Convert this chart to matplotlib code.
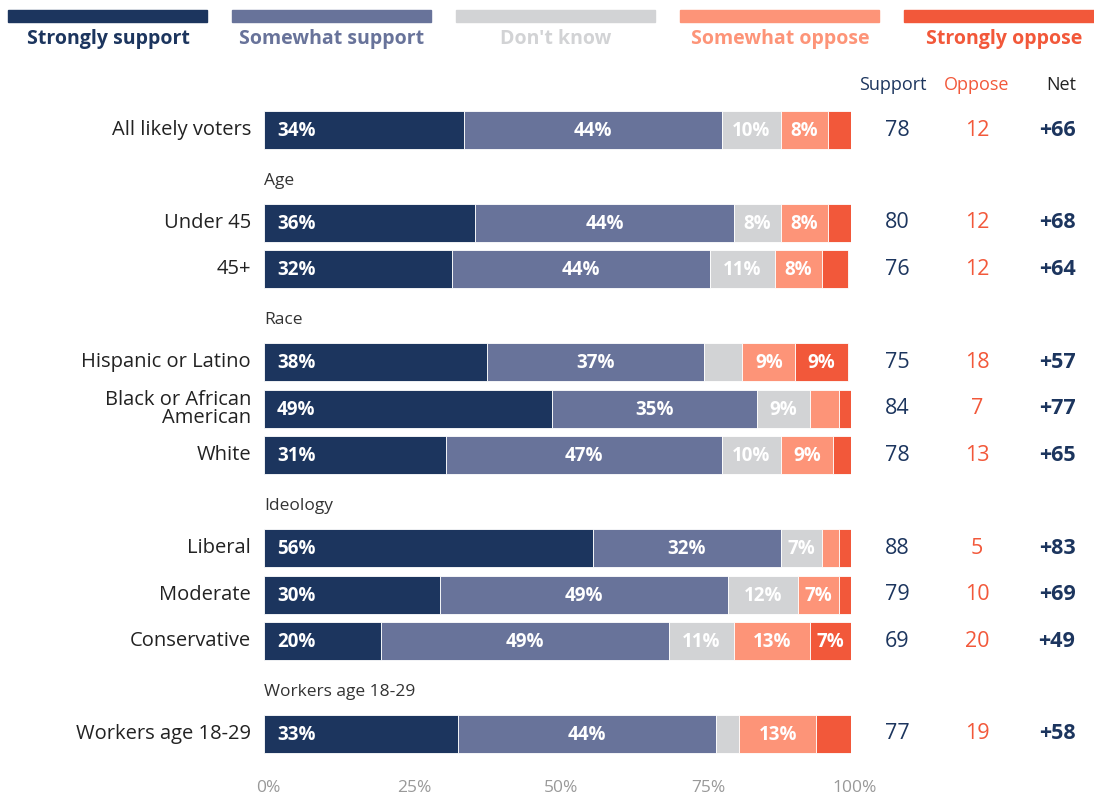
import matplotlib
matplotlib.use('Agg')
import matplotlib.pyplot as plt
import matplotlib.transforms as mtransforms
import numpy as np

plt.rcParams['font.family'] = ['Open Sans', 'DejaVu Sans']

# Survey rows (heading rows carry no bar)
rows = ['All likely voters', 'Age', 'Under 45', '45+', 'Race',
        'Hispanic or Latino', 'Black or African\nAmerican', 'White',
        'Ideology', 'Liberal', 'Moderate', 'Conservative',
        'Workers age 18-29', 'Workers age 18-29']
is_heading = [False, True, False, False, True, False, False, False,
              True, False, False, False, True, False]

strongly_support = [34, None, 36, 32, None, 38, 49, 31, None, 56, 30, 20, None, 33]
somewhat_support = [44, None, 44, 44, None, 37, 35, 47, None, 32, 49, 49, None, 44]
dont_know = [10, None, 8, 11, None, 6.5, 9, 10, None, 7, 12, 11, None, 4]
somewhat_oppose = [8, None, 8, 8, None, 9, 5, 9, None, 3, 7, 13, None, 13]
strongly_oppose = [4, None, 4, 4.5, None, 9, 2, 3.5, None, 2, 2.5, 7, None, 6]

support = [78, None, 80, 76, None, 75, 84, 78, None, 88, 79, 69, None, 77]
oppose = [12, None, 12, 12, None, 18, 7, 13, None, 5, 10, 20, None, 19]
net = ['+66', None, '+68', '+64', None, '+57', '+77', '+65', None, '+83', '+69', '+49', None, '+58']

series_names = ['Strongly support', 'Somewhat support', "Don't know",
                'Somewhat oppose', 'Strongly oppose']
colors = ['#1c355e', '#68739a', '#d2d3d5', '#fd9478', '#f2583a']
navy = colors[0]
orange = colors[4]

W, H = 1094, 795
fig = plt.figure(figsize=(W / 100, H / 100), dpi=100)

# bar area in pixel terms: 0% at x=264, 100% at x=851; row k centred at 130 + 46.46*k
x0, x1 = 264, 851
top, bottom = 100, 770
pitch = 46.46
ax = fig.add_axes([x0 / W, 1 - bottom / H, (x1 - x0) / W, (bottom - top) / H])
ax.set_xlim(0, 100)
ax.set_ylim((bottom - 130) / pitch, (top - 130) / pitch)

series = [strongly_support, somewhat_support, dont_know, somewhat_oppose, strongly_oppose]
bar_h = 38 / pitch

for i, name in enumerate(rows):
    if is_heading[i]:
        ax.text(0, i + 0.1, name, ha='left', va='center', fontsize=12.5, color='#333333')
        continue
    left = 0
    for j, vals in enumerate(series):
        v = vals[i]
        ax.barh(i, v, left=left, height=bar_h, color=colors[j],
                edgecolor='white', linewidth=0.6)
        if v >= 7:
            if j == 0:
                ax.text(left + 2.2, i + 0.02, f'{v:.0f}%', ha='left', va='center',
                        fontsize=13.5, fontweight='bold', color='white')
            else:
                ax.text(left + v / 2, i + 0.02, f'{v:.0f}%', ha='center', va='center',
                        fontsize=13.5, fontweight='bold', color='white')
        left += v
    ax.text(-2.2, i, name, ha='right', va='center', fontsize=14.5,
            color='#222222', linespacing=0.85)

# summary columns to the right of the bars
trans = mtransforms.blended_transform_factory(fig.transFigure, ax.transData)
col_x = [897 / W, 977 / W, 1057 / W]
header_y = (85 - 130) / pitch
ax.text(893 / W, header_y, 'Support', transform=trans, ha='center', va='center',
        fontsize=13, color=navy)
ax.text(col_x[1], header_y, 'Oppose', transform=trans, ha='center', va='center',
        fontsize=13, color=orange)
ax.text(1061 / W, header_y, 'Net', transform=trans, ha='center', va='center',
        fontsize=13, color='#222222')
for i in range(len(rows)):
    if is_heading[i]:
        continue
    ax.text(col_x[0], i, str(support[i]), transform=trans, ha='center', va='center',
            fontsize=15.5, color=navy)
    ax.text(col_x[1], i, str(oppose[i]), transform=trans, ha='center', va='center',
            fontsize=15.5, color=orange)
    ax.text(col_x[2], i, net[i], transform=trans, ha='center', va='center',
            fontsize=15.5, fontweight='bold', color=navy)
for t in ax.texts:
    t.set_clip_on(False)

ax.set_xticks([0, 25, 50, 75, 100])
ax.set_xticklabels(['0%', '25%', '50%', '75%', '100%'], fontsize=12.5, color='#999999')
ax.tick_params(axis='x', length=0, pad=7)
shift = mtransforms.ScaledTranslation(4 / 100, 0, fig.dpi_scale_trans)
for lbl in ax.get_xticklabels():
    lbl.set_transform(lbl.get_transform() + shift)
ax.set_yticks([])
for s in ax.spines.values():
    s.set_visible(False)

# legend strip across the top
for k, (name, c) in enumerate(zip(series_names, colors)):
    lx = 8 + k * 224
    fig.patches.append(plt.Rectangle((lx / W, 1 - 22 / H), 199 / W, 12 / H,
                                     transform=fig.transFigure, color=c))
    fig.text((lx + 100) / W, 1 - 39 / H, name, ha='center', va='center',
             fontsize=14, fontweight='bold', color=c)

fig.savefig('out.png', dpi=100, facecolor='white')
